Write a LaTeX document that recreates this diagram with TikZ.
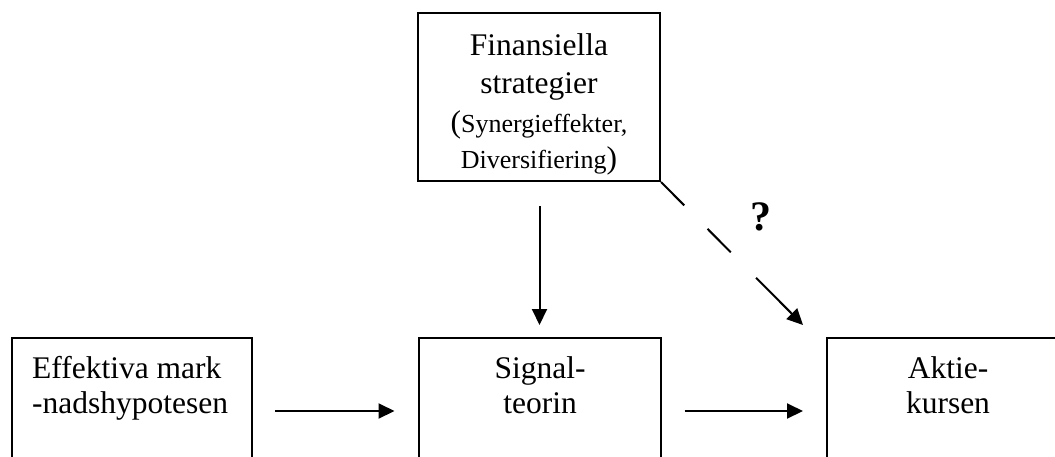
\documentclass[tikz,border=0pt]{standalone}
\usepackage{fontspec}
\setmainfont{Liberation Serif}
\usetikzlibrary{arrows.meta}

\begin{document}
\begin{tikzpicture}[x=1pt,y=-1pt,
  box/.style={draw=black, line width=2pt, minimum width=242pt, inner sep=0pt},
  txt/.style={inner sep=0pt, align=center, font=\fontsize{31.5}{35}\selectfont},
  link/.style={line width=2pt, -{Triangle[length=16pt,width=15pt]}},
]
\useasboundingbox (0,0) rectangle (1055,456);

% boxes (the lower row runs past the bottom edge)
\node[box, minimum height=168pt] (fin) at (539,97) {};
\node[box, minimum width=240pt, minimum height=240pt] (emh) at (132,458) {};
\node[box, minimum height=240pt] (sig) at (539.5,458) {};
\node[box, minimum height=240pt] (akt) at (948,458) {};

% texts
\node[txt, anchor=north] (fintxt) at (539,33.5)
  {Finansiella\\[3pt]strategier\\[4pt]
   ({\fontsize{26}{35}\selectfont Synergieffekter,}\\[1pt]
   {\fontsize{26}{35}\selectfont Diversifiering})};
\node[txt, anchor=north west, align=left] (emhtxt) at (32,356.5)
  {Effektiva mark\\-nadshypotesen};
\node[txt, anchor=north] (sigtxt) at (540,356.5) {Signal-\\teorin};
\node[txt, anchor=north] (akttxt) at (948,356.5) {Aktie-\\kursen};

\node[inner sep=0pt, font=\fontsize{42}{42}\selectfont\bfseries] (q) at (761,217) {?};

% connectors
\coordinate (tip) at (803,325);
\draw[link] (emh.east |- 0,411) ++(22,0) coordinate (a1)
  -- (a1 -| sig.west) [shorten >=23pt];
\draw[link, shorten >=23pt] (sig.east |- 0,411) ++(23,0) coordinate (a2)
  -- (a2 -| akt.west);
\draw[link, shorten <=24pt, shorten >=12pt] (fin.south -| sig.north) -- (sig.north);
\draw[link, dash pattern=on 33pt off 33pt on 33pt off 36pt on 90pt]
  (fin.south east) -- (tip);
\end{tikzpicture}
\end{document}
